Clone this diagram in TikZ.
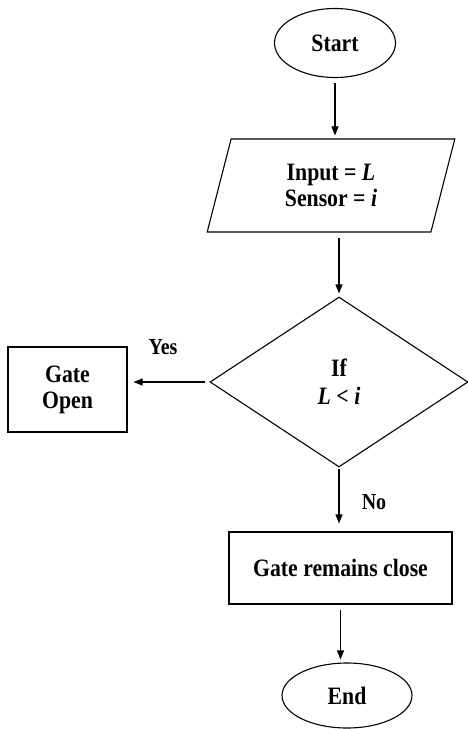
\documentclass[tikz,border=0pt]{standalone}
\usepackage{fontspec}
\setmainfont{Liberation Serif}[FakeStretch=0.87]
\usetikzlibrary{shapes.geometric,arrows.meta}

\begin{document}
\begin{tikzpicture}[x=1pt,y=-1pt,
  every node/.style={font=\fontsize{25}{26}\selectfont\bfseries, align=center, inner sep=0pt},
  shape outline/.style={draw, line width=1.1pt},
  terminal/.style={shape outline, ellipse},
  io/.style={shape outline, trapezium, trapezium left angle=75.5, trapezium right angle=104.5,
             trapezium stretches=true, minimum width=248pt, minimum height=93pt},
  decision/.style={shape outline, diamond, minimum width=258pt, minimum height=170pt, aspect=1.52},
  process/.style={shape outline, rectangle},
  branch/.style={font=\fontsize{23}{24}\selectfont\bfseries},
  flow/.style={line width=1.1pt, -{Triangle[length=9pt,width=7pt]}, shorten <=5pt, shorten >=3pt}]

  \useasboundingbox (0,0) rectangle (468,729);

  \node[terminal, minimum width=121pt, minimum height=69pt] (start) at (335,43) {Start};
  \node[io] (input) at (331,185.5) {Input = \textit{L}\\Sensor = \textit{i}};
  \node[decision] (cond) at (339,382) {If\\[2pt]\textit{L} < \textit{i}};
  \node[process, minimum width=119pt, minimum height=85pt] (open) at (67.5,389.5) {Gate\\Open};
  \node[process, minimum width=223pt, minimum height=72pt] (close) at (340.5,568) {Gate remains close};
  \node[terminal, minimum width=130pt, minimum height=65pt] (end) at (347,695.5) {End};

  \node[branch] (yes) at (163,347) {Yes};
  \node[branch] (no) at (374,502) {No};

  \draw[flow] (start.south) -- (start.south |- input.north);
  \draw[flow] (input.south -| cond.north) -- (cond.north);
  \draw[flow, shorten <=4pt, shorten >=6pt] (cond.west) -- (cond.west -| open.east);
  \draw[flow, shorten <=1pt, shorten >=8pt] (cond.south) -- (cond.south |- close.north);
  \draw[flow] (close.south) -- (close.south |- end.north);
\end{tikzpicture}
\end{document}
